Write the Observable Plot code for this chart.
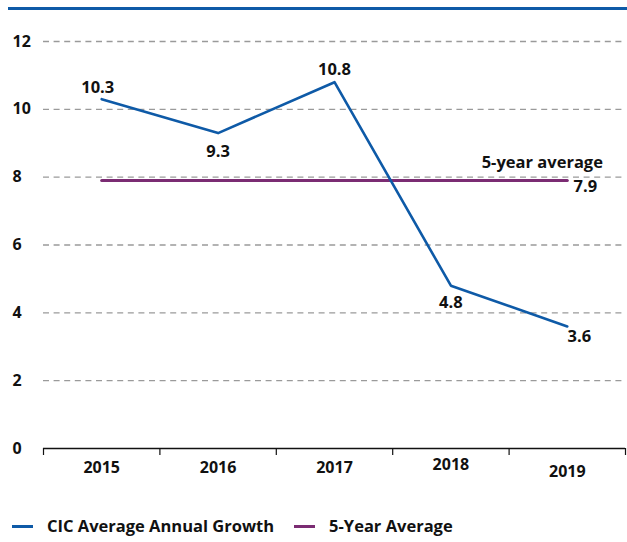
<!DOCTYPE html>
<html>
<head>
<meta charset="utf-8">
<script src="https://cdn.jsdelivr.net/npm/d3@7"></script>
<script src="https://cdn.jsdelivr.net/npm/@observablehq/plot@0.6"></script>
<style>
  html, body { margin: 0; padding: 0; background: #fff; }
  body { width: 627px; height: 542px; overflow: hidden; position: relative; font-family: "Open Sans", "Noto Sans", sans-serif; }
  #topRule { position: absolute; left: 8px; right: 0; top: 7px; height: 3px; background: #0e5aa7; }
  #chart { position: absolute; left: 0; top: 0; }
  #legend { position: absolute; left: 12px; top: 516px; line-height: 20px; display: flex; align-items: center; font-weight: 700; font-size: 16.5px; color: #111; white-space: nowrap; }
  .item { display: flex; align-items: center; margin-right: 20px; }
  .sw { width: 21px; height: 3px; margin-right: 14px; }
</style>
</head>
<body>
<div id="topRule"></div>
<div id="chart"></div>
<div id="legend"></div>
<script>
const years = [2015, 2016, 2017, 2018, 2019];
const growth = [10.3, 9.3, 10.8, 4.8, 3.6];
const average = 7.9;
const yTicks = [0, 2, 4, 6, 8, 10, 12];
const seriesNames = ["CIC Average Annual Growth", "5-Year Average"];
const averageLabel = "5-year average";

const blue = "#0e5aa7";
const purple = "#7b2c73";

const data = years.map((y, i) => ({year: y, v: growth[i]}));
const avgData = [{year: years[0], v: average}, {year: years[years.length - 1], v: average}];
const bounds = [...years.map(y => y - 0.5), years[years.length - 1] + 0.5];

// label offsets (dx, dy) per point
const offs = [[-4, -11], [0, 19], [0, -12], [0, 17], [12, 10]];
// small vertical jitter of year labels as in the original
const yearDy = [0, 0, 0, -3, 4];

const labelMarks = data.map((d, i) => Plot.text([d], {
  x: "year", y: "v", text: d => d.v.toFixed(1),
  dx: offs[i][0], dy: offs[i][1],
  fontSize: 16.5, fontWeight: 700, fill: "#111"
}));

const yearMarks = years.map((yr, i) => Plot.axisX([yr], {
  tickSize: 0, tickPadding: 13 + yearDy[i], tickFormat: d => String(d), label: null,
  fontSize: 16, fontWeight: 700, fill: "#111"
}));

const chart = Plot.plot({
  width: 627,
  height: 490,
  marginTop: 41,
  marginBottom: 42,
  marginLeft: 43,
  marginRight: 2,
  style: {fontFamily: "'Open Sans', 'Noto Sans', sans-serif", fontSize: "16px", background: "transparent"},
  x: {domain: [bounds[0], bounds[bounds.length - 1]]},
  y: {domain: [0, 12]},
  marks: [
    Plot.gridY(yTicks.filter(t => t > 0), {stroke: "#9a9a9a", strokeOpacity: 1, strokeWidth: 1.3, strokeDasharray: "6,4.6"}),
    Plot.axisY(yTicks, {tickSize: 0, tickPadding: 31, textAnchor: "start", label: null, fontSize: 16, fontWeight: 700, fill: "#111"}),
    Plot.axisX(bounds, {tickSize: 7, tickFormat: () => "", label: null, stroke: "#111", strokeWidth: 1.2}),
    ...yearMarks,
    Plot.ruleY([0], {stroke: "#111", strokeWidth: 1.3}),
    Plot.line(avgData, {x: "year", y: "v", stroke: purple, strokeWidth: 3}),
    Plot.line(data, {x: "year", y: "v", stroke: blue, strokeWidth: 2.6}),
    ...labelMarks,
    Plot.text([avgData[1]], {x: "year", y: "v", text: d => d.v.toFixed(1), dx: 18, dy: 6, fontSize: 16.5, fontWeight: 700, fill: "#111"}),
    Plot.text([avgData[1]], {x: "year", y: "v", text: () => averageLabel, dx: -25, dy: -18, fontSize: 16.5, fontWeight: 700, fill: "#111"})
  ]
});
document.getElementById("chart").appendChild(chart);

const legend = document.getElementById("legend");
[blue, purple].forEach((c, i) => {
  const item = document.createElement("div");
  item.className = "item";
  const sw = document.createElement("span");
  sw.className = "sw";
  sw.style.background = c;
  const t = document.createElement("span");
  t.textContent = seriesNames[i];
  item.appendChild(sw);
  item.appendChild(t);
  legend.appendChild(item);
});
</script>
</body>
</html>
